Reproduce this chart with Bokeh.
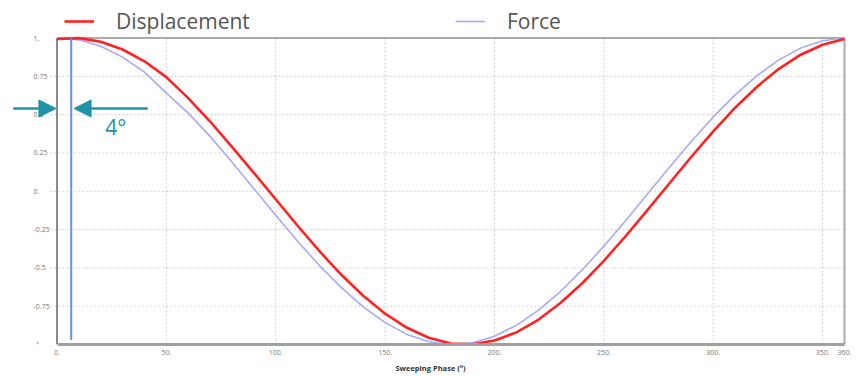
from bokeh.plotting import figure
from bokeh.models import (Range1d, FixedTicker, Legend, LegendItem, Arrow,
                          NormalHead, Label)
from bokeh.core.properties import value
from bokeh.embed import file_html
from bokeh.resources import INLINE

# Sweep phase in degrees
phase = [0, 10, 20, 30, 40, 50, 60, 70, 80, 90, 100, 110, 120, 130, 140, 150,
         160, 170, 180, 190, 200, 210, 220, 230, 240, 250, 260, 270, 280, 290,
         300, 310, 320, 330, 340, 350, 360]

displacement = [0.993, 0.999, 0.975, 0.925, 0.848, 0.745, 0.608, 0.455, 0.290,
                0.120, -0.052, -0.225, -0.391, -0.545, -0.682, -0.799, -0.891,
                -0.956, -0.993, -0.999, -0.974, -0.921, -0.839, -0.731, -0.602,
                -0.454, -0.292, -0.122, 0.052, 0.225, 0.391, 0.545, 0.682,
                0.799, 0.891, 0.956, 0.993]

force = [1.000, 0.988, 0.946, 0.875, 0.777, 0.640, 0.510, 0.358, 0.191, 0.017,
         -0.156, -0.326, -0.485, -0.629, -0.755, -0.857, -0.934, -0.982,
         -1.000, -0.988, -0.946, -0.875, -0.777, -0.656, -0.515, -0.358,
         -0.191, -0.017, 0.156, 0.326, 0.485, 0.629, 0.755, 0.857, 0.934,
         0.982, 1.000]

# Vertical marker at the displacement peak
marker_phase = [6.5, 6.5]
marker_level = [1.0, -0.97]
lag_text = "4°"

x_ticks = [0, 50, 100, 150, 200, 250, 300, 350, 360]
x_tick_labels = ["0.", "50.", "100.", "150.", "200.", "250.", "300.", "350.", "360."]
y_ticks = [-1, -0.75, -0.5, -0.25, 0, 0.25, 0.5, 0.75, 1]
y_tick_labels = ["-1.", "-0.75", "-0.5", "-0.25", "0.", "0.25", "0.5", "0.75", "1."]

TEAL = "#1f94a8"
TICK_COLOR = "#777777"
GRID_COLOR = "#cfcfcf"

# The frame fills the canvas above the x axis, so the data window is padded
# on the left, right and top to leave room for the y labels, arrows and legend.
X_MIN, X_MAX = -25.83, 367.31
Y_MIN, Y_MAX = -1.0, 1.2447

p = figure(width=860, height=376, output_backend="svg", toolbar_location=None,
           x_range=Range1d(X_MIN, X_MAX), y_range=Range1d(Y_MIN, Y_MAX),
           y_axis_location=None,
           min_border_left=0, min_border_right=0,
           min_border_top=0, min_border_bottom=32)
p.background_fill_color = "white"
p.border_fill_color = "white"
p.outline_line_color = None
p.grid.visible = False

# Bottom axis, limited to the phase span
p.xaxis.bounds = (x_ticks[0], x_ticks[-1])
p.xaxis.ticker = FixedTicker(ticks=x_ticks)
p.xaxis.major_label_overrides = dict(zip(x_ticks, x_tick_labels))
p.xaxis.major_label_text_font = "Open Sans"
p.xaxis.major_label_text_font_size = "7px"
p.xaxis.major_label_text_color = TICK_COLOR
p.xaxis.major_label_standoff = 5
p.xaxis.major_tick_out = 0
p.xaxis.major_tick_in = 0
p.xaxis.minor_tick_line_color = None
p.xaxis.axis_line_color = "#a0a0a0"
p.xaxis.axis_line_width = 3
p.xaxis.axis_label = "Sweeping Phase (°)"
p.xaxis.axis_label_text_font = "Open Sans"
p.xaxis.axis_label_text_font_size = "7.5px"
p.xaxis.axis_label_text_font_style = "bold"
p.xaxis.axis_label_text_color = "#333333"
p.xaxis.axis_label_standoff = 5

# Dotted grid; horizontal lines run a little past the left edge as ticks
inner_x = x_ticks[1:-1]
inner_y = y_ticks[1:-1]
p.segment(x0=inner_x, y0=y_ticks[0], x1=inner_x, y1=y_ticks[-1],
          line_color=GRID_COLOR, line_dash="2 2", line_width=1)
p.segment(x0=-3, y0=inner_y, x1=x_ticks[-1], y1=inner_y,
          line_color=GRID_COLOR, line_dash="2 2", line_width=1)

# Y tick labels
p.text(x=-10.7, y=y_ticks, text=y_tick_labels, text_font=value("Open Sans"),
       text_font_size="7px", text_color=TICK_COLOR, text_align="left",
       text_baseline="middle")

# Frame: top and right borders, left axis line
p.segment(x0=[x_ticks[0], x_ticks[-1]], y0=[y_ticks[-1], y_ticks[-1]],
          x1=[x_ticks[-1], x_ticks[-1]], y1=[y_ticks[-1], y_ticks[0]],
          line_color="#aaaaaa", line_width=2)
p.segment(x0=x_ticks[0], y0=y_ticks[0], x1=x_ticks[0], y1=y_ticks[-1],
          line_color="#8a8a8a", line_width=2)

# Curves
force_r = p.line(phase, force, line_color="#a9a9f8", line_width=1.6)
disp_r = p.line(phase, displacement, line_color="#ff2222", line_width=2.6)
p.line(marker_phase, marker_level, line_color="#6b8fe0", line_width=2)

# Phase-lag arrows and text
p.add_layout(Arrow(end=NormalHead(size=17, fill_color=TEAL, line_color=TEAL),
                   x_start=-20, y_start=0.54, x_end=-0.5, y_end=0.54,
                   line_color=TEAL, line_width=2.5))
p.add_layout(Arrow(end=NormalHead(size=17, fill_color=TEAL, line_color=TEAL),
                   x_start=41.5, y_start=0.54, x_end=7.8, y_end=0.54,
                   line_color=TEAL, line_width=2.5))
p.add_layout(Label(x=22, y=0.33, text=lag_text, text_font="Open Sans",
                   text_font_size="21px", text_color=TEAL))

# Legend across the top
legend = Legend(items=[LegendItem(label="Displacement", renderers=[disp_r]),
                       LegendItem(label="Force", renderers=[force_r])],
                orientation="horizontal", location=(64, 309),
                glyph_width=30, glyph_height=20, label_standoff=22,
                label_width=339, spacing=0, padding=0, margin=0,
                label_text_font="Open Sans", label_text_font_size="21px",
                label_text_color="#555555",
                border_line_alpha=0, background_fill_alpha=0)
p.add_layout(legend)

open("out.html", "w").write(file_html(p, INLINE))
